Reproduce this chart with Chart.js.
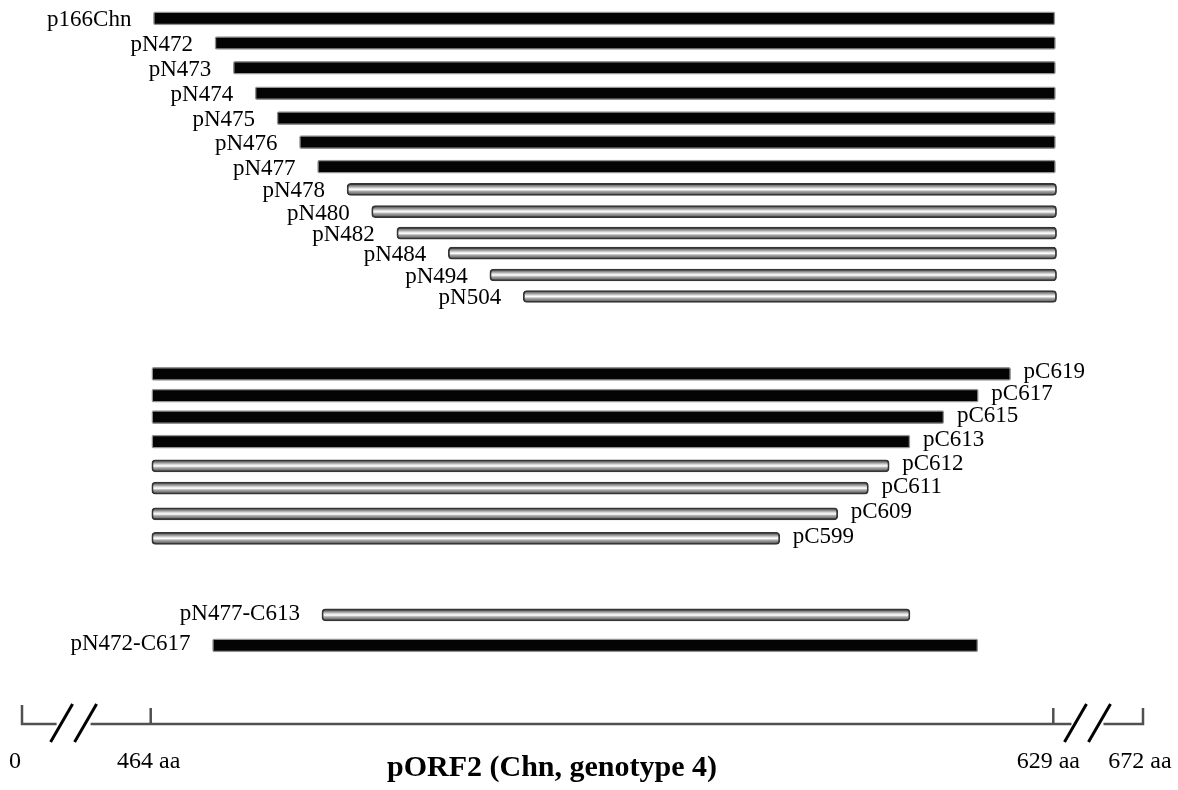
<!DOCTYPE html>
<html>
<head>
<meta charset="utf-8">
<script src="https://cdn.jsdelivr.net/npm/chart.js@4.4.1/dist/chart.umd.min.js"></script>
<style>
html,body{margin:0;padding:0;background:#fff;}
#wrap{width:1178px;height:790px;position:relative;}
</style>
</head>
<body>
<div id="wrap"><canvas id="c" width="1178" height="790"></canvas></div>
<script>
// ---- data ----
const constructs = ['p166Chn','pN472','pN473','pN474','pN475','pN476','pN477','pN478','pN480','pN482','pN484','pN494','pN504',
  'pC619','pC617','pC615','pC613','pC612','pC611','pC609','pC599','pN477-C613','pN472-C617'];
const startPos = [464.5,475.75,479.1,483.1,487.1,491.2,494.5,499.9,504.4,509.0,518.4,526.0,532.1,
  464.2,464.2,464.2,464.2,464.2,464.2,464.2,464.2,495.3,475.3];
const endPos = [629.3,629.4,629.4,629.4,629.4,629.4,629.4,629.6,629.6,629.6,629.6,629.6,629.6,
  621.2,615.3,609.0,602.8,599.0,595.2,589.6,579.0,602.8,615.2];
const track = [0,1,2,3.03,4.04,5.01,6,6.92,7.82,8.69,9.5,10.38,11.25,
  14.38,15.26,16.13,17.12,18.1,19.0,20.04,21.03,24.13,25.36];
const reactive = [true,true,true,true,true,true,true,false,false,false,false,false,false,
  true,true,true,true,false,false,false,false,false,true];
const axisTicks = [440.47,464,629,645.4];
const axisTickLabels = ['0','464 aa','629 aa','672 aa'];
const axisBreaks = [449.9,635.25];
const axisTitle = 'pORF2 (Chn, genotype 4)';

const SERIF = '"Liberation Serif","Times New Roman",serif';

const solidData = [], hollowData = [];
constructs.forEach((n,i)=>{
  const pt = {x:[startPos[i], endPos[i]], y:track[i]};
  (reactive[i] ? solidData : hollowData).push(pt);
});

function hollowFill(ctx){
  const chart = ctx.chart;
  const ys = chart.scales && chart.scales.y;
  const raw = ctx.raw;
  if (!ys || !chart.chartArea || !raw) return '#bdbdbd';
  const yc = ys.getPixelForValue(raw.y);
  const g = chart.ctx.createLinearGradient(0, yc-6, 0, yc+6);
  g.addColorStop(0,'#4a4a4a');
  g.addColorStop(0.22,'#8c8c8c');
  g.addColorStop(0.42,'#e6e6e6');
  g.addColorStop(0.52,'#ffffff');
  g.addColorStop(0.66,'#a8a8a8');
  g.addColorStop(1,'#4a4a4a');
  return g;
}

const labelPlugin = {
  id:'barLabels',
  afterDatasetsDraw(chart){
    const {ctx, scales:{x,y}} = chart;
    ctx.save();
    ctx.font = '23px ' + SERIF;
    ctx.fillStyle = '#000';
    ctx.textBaseline = 'alphabetic';
    constructs.forEach((n,i)=>{
      const yc = y.getPixelForValue(track[i]);
      if (n.startsWith('pC')) {
        ctx.textAlign = 'left';
        ctx.fillText(n, x.getPixelForValue(endPos[i]) + 13, yc + 4.5);
      } else {
        ctx.textAlign = 'right';
        ctx.fillText(n, x.getPixelForValue(startPos[i]) - 22, yc + (n.includes('-') ? 5 : 8));
      }
    });
    ctx.restore();
  }
};

const axisPlugin = {
  id:'brokenAxis',
  afterDraw(chart){
    const {ctx, chartArea, scales:{x}} = chart;
    const y0 = chartArea.bottom;
    const px = axisTicks.map(v=>x.getPixelForValue(v));
    const br = axisBreaks.map(v=>x.getPixelForValue(v));
    ctx.save();
    ctx.strokeStyle = '#505050';
    ctx.lineWidth = 2.5;
    ctx.lineCap = 'butt';
    ctx.beginPath();
    const segs = [[px[0]-1.2, br[0]-17],[br[0]+17, br[1]-16],[br[1]+16, px[3]+1.2]];
    segs.forEach(([a,b])=>{ctx.moveTo(a,y0);ctx.lineTo(b,y0);});
    px.forEach((p,i)=>{ctx.moveTo(p,y0+1.2);ctx.lineTo(p,y0-(i===0?19:16));});
    ctx.stroke();
    ctx.strokeStyle = '#000';
    ctx.lineWidth = 3;
    ctx.beginPath();
    br.forEach(c=>{[-12,12].forEach(o=>{ctx.moveTo(c+o-11,y0+18);ctx.lineTo(c+o+11,y0-20);});});
    ctx.stroke();
    ctx.fillStyle = '#000';
    ctx.font = '24px ' + SERIF;
    ctx.textBaseline = 'alphabetic';
    axisTickLabels.forEach((t,i)=>{
      if (i===0){ctx.textAlign='right';ctx.fillText(t,px[i]-1,y0+44);}
      else {ctx.textAlign='center';ctx.fillText(t,px[i]-(i===2?5:(i===1?2:3)),y0+44);}
    });
    ctx.font = 'bold 30px ' + SERIF;
    ctx.textAlign = 'center';
    ctx.fillText(axisTitle, 552, y0 + 51.5);
    ctx.restore();
  }
};

new Chart(document.getElementById('c'), {
  type:'bar',
  data:{
    datasets:[{
      label:'reactive',
      data: solidData,
      backgroundColor: '#040404',
      borderColor: 'rgba(40,40,40,0.5)',
      borderWidth: 1.5,
      borderRadius: 2,
      borderSkipped: false,
      barThickness: 13,
      grouped: false
    },{
      label:'non-reactive',
      data: hollowData,
      backgroundColor: hollowFill,
      borderColor: '#353535',
      borderWidth: 1.8,
      borderRadius: 4,
      borderSkipped: false,
      barThickness: 12,
      grouped: false
    }]
  },
  options:{
    indexAxis:'y',
    responsive:false,
    animation:false,
    devicePixelRatio:1,
    layout:{padding:{left:22,right:35,top:0,bottom:66}},
    plugins:{legend:{display:false},title:{display:false},tooltip:{enabled:false}},
    scales:{
      x:{type:'linear',min:axisTicks[0],max:axisTicks[3],offset:false,grace:0,display:false,ticks:{display:false},grid:{display:false}},
      y:{type:'linear',reverse:true,min:-0.74,max:28.54,offset:false,grace:0,display:false,ticks:{display:false},grid:{display:false}}
    }
  },
  plugins:[labelPlugin, axisPlugin]
});
</script>
</body>
</html>
